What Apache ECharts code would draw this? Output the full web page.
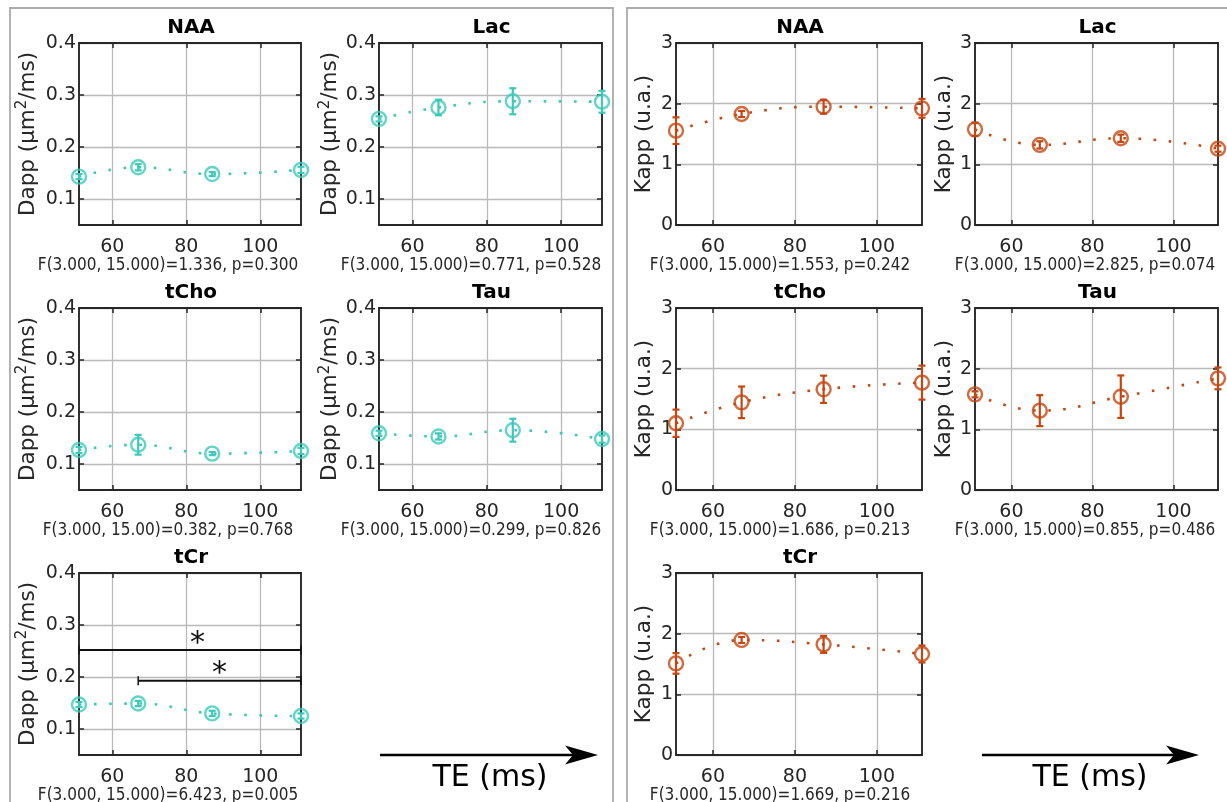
<!DOCTYPE html>
<html><head><meta charset="utf-8">
<script src="https://cdn.jsdelivr.net/npm/echarts@6/dist/echarts.min.js"></script>
<style>html,body{margin:0;padding:0;background:#fff}#c{width:1227px;height:802px}</style>
</head><body><div id="c"></div>
<script>
// ---------------- data ----------------
const teValues = [51, 67, 87, 111];
const xTickValues = [60, 80, 100];
const dappTickValues = [0.1, 0.2, 0.3, 0.4];
const kappTickValues = [0, 1, 2, 3];
const metabolites = ['NAA', 'Lac', 'tCho', 'Tau', 'tCr'];

const dappNAA = [0.143, 0.161, 0.148, 0.156];
const dappNAAErr = [0.005, 0.006, 0.004, 0.006];
const dappLac = [0.254, 0.276, 0.288, 0.287];
const dappLacErr = [0.005, 0.015, 0.025, 0.021];
const dappTCho = [0.127, 0.137, 0.120, 0.125];
const dappTChoErr = [0.006, 0.019, 0.003, 0.006];
const dappTau = [0.159, 0.153, 0.165, 0.148];
const dappTauErr = [0.005, 0.006, 0.022, 0.007];
const dappTCr = [0.147, 0.149, 0.130, 0.125];
const dappTCrErr = [0.005, 0.005, 0.005, 0.005];

const kappNAA = [1.555, 1.83, 1.95, 1.923];
const kappNAAErr = [0.22, 0.05, 0.115, 0.155];
const kappLac = [1.577, 1.32, 1.43, 1.258];
const kappLacErr = [0.11, 0.06, 0.06, 0.05];
const kappTCho = [1.10, 1.445, 1.66, 1.77];
const kappTChoErr = [0.225, 0.26, 0.225, 0.28];
const kappTau = [1.577, 1.308, 1.538, 1.84];
const kappTauErr = [0.05, 0.255, 0.35, 0.18];
const kappTCr = [1.51, 1.896, 1.824, 1.665];
const kappTCrErr = [0.17, 0.05, 0.14, 0.14];

const dappStats = [
  'F(3.000, 15.000)=1.336, p=0.300',
  'F(3.000, 15.000)=0.771, p=0.528',
  'F(3.000, 15.00)=0.382, p=0.768',
  'F(3.000, 15.000)=0.299, p=0.826',
  'F(3.000, 15.000)=6.423, p=0.005'
];
const kappStats = [
  'F(3.000, 15.000)=1.553, p=0.242',
  'F(3.000, 15.000)=2.825, p=0.074',
  'F(3.000, 15.000)=1.686, p=0.213',
  'F(3.000, 15.000)=0.855, p=0.486',
  'F(3.000, 15.000)=1.669, p=0.216'
];

// significance brackets for tCr Dapp
const sigFrom = [51, 67];
const sigTo = [111, 111];
const sigLevel = [0.252, 0.193];
const sigStarX = [83, 89];

const dappMeans = [dappNAA, dappLac, dappTCho, dappTau, dappTCr];
const dappErrs = [dappNAAErr, dappLacErr, dappTChoErr, dappTauErr, dappTCrErr];
const kappMeans = [kappNAA, kappLac, kappTCho, kappTau, kappTCr];
const kappErrs = [kappNAAErr, kappLacErr, kappTChoErr, kappTauErr, kappTCrErr];

// ---------------- layout / style ----------------
const TEAL = '#3cc9ba';
const ORANGE = '#c44610';
const AX = '#262626';
const GRIDC = '#b9b9b9';
const FONT = '"DejaVu Sans Condensed", "DejaVu Sans", sans-serif';
const TICKFONT = '"DejaVu Sans", sans-serif';
const NAMEFONT = '"DejaVu Sans", sans-serif';
const leftCols = [{ l: 79, w: 222, gap: 38, fx: 168 }, { l: 379, w: 223, gap: 34, fx: 471 }];
const rightCols = [{ l: 676, w: 246, gap: 21, fx: 780 }, { l: 975, w: 243, gap: 20, fx: 1085 }];
const rowTops = [43, 308, 573];
const rowH = 182;

const grids = [], xAxes = [], yAxes = [], series = [], graphics = [];

function addPanel(kind, i) {
  const cols = kind === 'dapp' ? leftCols : rightCols;
  const col = cols[i % 2];
  const top = rowTops[Math.floor(i / 2)];
  const gi = grids.length;
  grids.push({ left: col.l, top: top, width: col.w, height: rowH, outerBoundsMode: 'none', containLabel: false });
  const yTicks = kind === 'dapp' ? dappTickValues : kappTickValues;
  const yMin = kind === 'dapp' ? 0.05 : 0;
  const yMax = kind === 'dapp' ? 0.4 : 3;
  const lineS = { color: AX, width: 1.9 };
  const tickS = { color: AX, width: 1.5 };
  xAxes.push({
    gridIndex: gi, type: 'value', min: 51, max: 111, position: 'bottom',
    axisLine: { show: true, onZero: false, lineStyle: lineS },
    axisTick: { show: true, inside: true, length: 5, customValues: xTickValues, lineStyle: tickS },
    axisLabel: { show: true, customValues: xTickValues, fontSize: 19, fontFamily: TICKFONT, color: AX, margin: 13 },
    splitLine: { show: true, lineStyle: { color: GRIDC, width: 1.3 } }
  });
  xAxes.push({
    gridIndex: gi, type: 'value', min: 51, max: 111, position: 'top',
    axisLine: { show: true, onZero: false, lineStyle: lineS },
    axisTick: { show: true, inside: true, length: 5, customValues: xTickValues, lineStyle: tickS },
    axisLabel: { show: false, customValues: xTickValues },
    splitLine: { show: false }
  });
  const yName = kind === 'dapp' ? 'Dapp (µm{s|2}/ms)' : 'Kapp (u.a.)';
  yAxes.push({
    gridIndex: gi, type: 'value', min: yMin, max: yMax, position: 'left',
    name: yName, nameLocation: 'middle', nameGap: col.gap,
    nameTextStyle: { fontSize: 21.5, fontFamily: NAMEFONT, color: AX,
      rich: { s: { fontSize: 15, fontFamily: NAMEFONT, color: AX, lineHeight: 26, verticalAlign: 'top' } } },
    axisLine: { show: true, onZero: false, lineStyle: lineS },
    axisTick: { show: true, inside: true, length: 5, customValues: yTicks, lineStyle: tickS },
    axisLabel: { show: true, customValues: yTicks, fontSize: 19, fontFamily: TICKFONT, color: AX, margin: 3,
      formatter: v => kind === 'dapp' ? v.toFixed(1) : String(Math.round(v)) },
    splitLine: { show: true, lineStyle: { color: GRIDC, width: 1.3 } }
  });
  yAxes.push({
    gridIndex: gi, type: 'value', min: yMin, max: yMax, position: 'right',
    axisLine: { show: true, onZero: false, lineStyle: lineS },
    axisTick: { show: true, inside: true, length: 5, customValues: yTicks, lineStyle: tickS },
    axisLabel: { show: false, customValues: yTicks },
    splitLine: { show: false }
  });
  const xi = gi * 2, yi = gi * 2;
  const means = kind === 'dapp' ? dappMeans[i] : kappMeans[i];
  const errs = kind === 'dapp' ? dappErrs[i] : kappErrs[i];
  const color = kind === 'dapp' ? TEAL : ORANGE;
  const pts = teValues.map((x, k) => [x, means[k]]);
  series.push({
    type: 'line', xAxisIndex: xi, yAxisIndex: yi, data: pts, smooth: 0.45,
    showSymbol: false, silent: true, z: 2,
    lineStyle: { color: color, width: 2.6, type: [2.6, 12.5] }
  });
  series.push({
    type: 'custom', xAxisIndex: xi, yAxisIndex: yi, silent: true, clip: false, z: 3,
    data: teValues.map((x, k) => [x, means[k], errs[k]]),
    encode: { x: 0, y: 1 },
    renderItem: function (params, api) {
      const x = api.value(0), y = api.value(1), e = api.value(2);
      const a = api.coord([x, y + e]), b = api.coord([x, y - e]);
      const w = 3.5, st = { stroke: color, lineWidth: 2.2 };
      return { type: 'group', children: [
        { type: 'line', shape: { x1: a[0], y1: a[1], x2: b[0], y2: b[1] }, style: st },
        { type: 'line', shape: { x1: a[0] - w, y1: a[1], x2: a[0] + w, y2: a[1] }, style: st },
        { type: 'line', shape: { x1: b[0] - w, y1: b[1], x2: b[0] + w, y2: b[1] }, style: st }
      ] };
    }
  });
  series.push({
    type: 'scatter', xAxisIndex: xi, yAxisIndex: yi, data: pts, symbol: 'circle', symbolSize: 14,
    silent: true, clip: false, z: 4,
    itemStyle: { color: 'rgba(255,255,255,0)', borderColor: color, borderWidth: 2.4 }
  });
  if (kind === 'dapp' && metabolites[i] === 'tCr') {
    series.push({
      type: 'custom', xAxisIndex: xi, yAxisIndex: yi, silent: true, clip: false, z: 5,
      data: sigFrom.map((f, k) => [f, sigTo[k], sigLevel[k], sigStarX[k]]),
      encode: { x: [0, 1], y: 2 },
      renderItem: function (params, api) {
        const p1 = api.coord([api.value(0), api.value(2)]);
        const p2 = api.coord([api.value(1), api.value(2)]);
        const ps = api.coord([api.value(3), api.value(2)]);
        const st = { stroke: '#111', lineWidth: 2 };
        const h = 4.5;
        return { type: 'group', children: [
          { type: 'line', shape: { x1: p1[0], y1: p1[1], x2: p2[0], y2: p2[1] }, style: st },
          { type: 'line', shape: { x1: p1[0], y1: p1[1] - h, x2: p1[0], y2: p1[1] + h }, style: { stroke: '#111', lineWidth: 1.5 } },
          { type: 'line', shape: { x1: p2[0], y1: p2[1] - h, x2: p2[0], y2: p2[1] + h }, style: { stroke: '#111', lineWidth: 1.5 } },
          { type: 'text', x: ps[0], y: ps[1] - 6, style: { text: '*', font: '30px "DejaVu Sans", sans-serif', fill: '#111', align: 'center', verticalAlign: 'middle' } }
        ] };
      }
    });
  }
  // title and stats text
  graphics.push({ type: 'text', x: col.l + col.w / 2 + 1, y: top - 15, silent: true,
    style: { text: metabolites[i], font: 'bold 20px "DejaVu Sans", sans-serif', fill: '#000', align: 'center', verticalAlign: 'middle' } });
  graphics.push({ type: 'text', x: col.fx, y: top + rowH + 41, silent: true,
    style: { text: kind === 'dapp' ? dappStats[i] : kappStats[i], font: '17px ' + FONT, fill: AX, align: 'center', verticalAlign: 'middle' } });
}

for (let i = 0; i < 5; i++) addPanel('dapp', i);
for (let i = 0; i < 5; i++) addPanel('kapp', i);

// frames
graphics.push({ type: 'rect', silent: true, shape: { x: 10, y: 8, width: 603, height: 900 }, style: { fill: 'none', stroke: '#ababab', lineWidth: 1.8 } });
graphics.push({ type: 'rect', silent: true, shape: { x: 627, y: 8, width: 700, height: 900 }, style: { fill: 'none', stroke: '#ababab', lineWidth: 1.8 } });

// TE arrows
function arrow(x1, x2, y) {
  graphics.push({ type: 'line', silent: true, shape: { x1: x1, y1: y, x2: x2 - 20, y2: y }, style: { stroke: '#000', lineWidth: 2.5 } });
  graphics.push({ type: 'polygon', silent: true, shape: { points: [[x2, y], [x2 - 33, y - 9.5], [x2 - 25, y], [x2 - 33, y + 9.5]] }, style: { fill: '#000' } });
}
arrow(380, 598, 755);
arrow(982, 1199, 755);
graphics.push({ type: 'text', silent: true, x: 490, y: 778, style: { text: 'TE (ms)', font: '30px "DejaVu Sans", sans-serif', fill: '#000', align: 'center', verticalAlign: 'middle' } });
graphics.push({ type: 'text', silent: true, x: 1090, y: 778, style: { text: 'TE (ms)', font: '30px "DejaVu Sans", sans-serif', fill: '#000', align: 'center', verticalAlign: 'middle' } });

const chart = echarts.init(document.getElementById('c'), null, { renderer: 'canvas' });
chart.setOption({
  animation: false,
  backgroundColor: '#fff',
  grid: grids,
  xAxis: xAxes,
  yAxis: yAxes,
  series: series,
  graphic: { elements: graphics }
});
</script></body></html>
